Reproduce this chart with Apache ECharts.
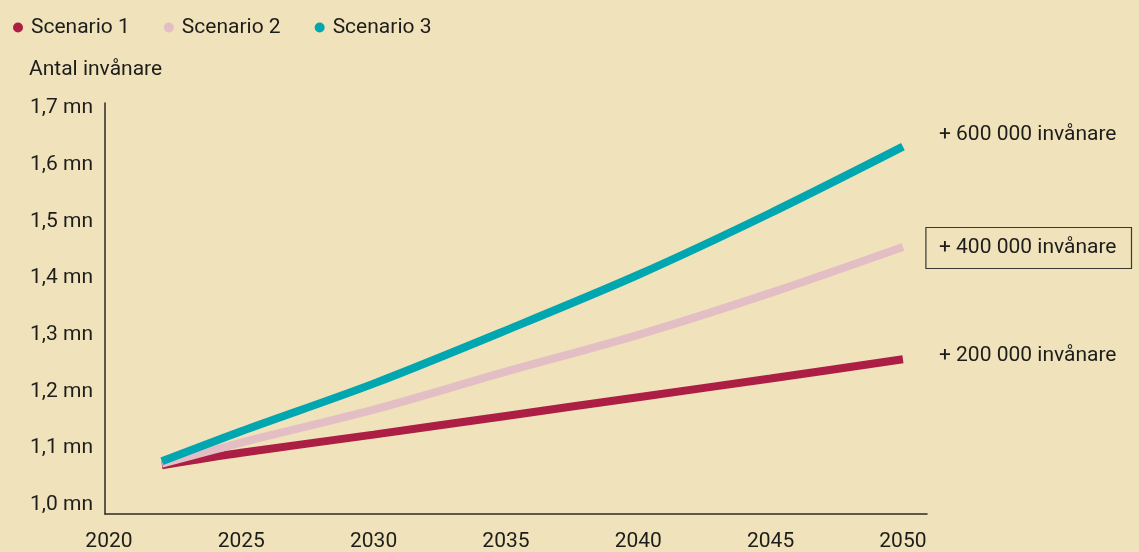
<!DOCTYPE html>
<html>
<head>
<meta charset="utf-8">
<script src="https://cdn.jsdelivr.net/npm/echarts@6/dist/echarts.min.js"></script>
<style>
  html, body { margin: 0; padding: 0; background: #f0e2ba; }
  #main { width: 1139px; height: 552px; }
</style>
</head>
<body>
<div id="main"></div>
<script>
// befolkningsprognos, tre scenarier
var years = [2022, 2025, 2030, 2035, 2040, 2045, 2050];
var scenario1 = [1.070, 1.092, 1.124, 1.157, 1.190, 1.223, 1.257];
var scenario2 = [1.073, 1.110, 1.168, 1.235, 1.300, 1.374, 1.455];
var scenario3 = [1.077, 1.130, 1.214, 1.308, 1.406, 1.515, 1.632];
var seriesNames = ['Scenario 1', 'Scenario 2', 'Scenario 3'];
var endTexts = ['+ 200 000 invånare', '+ 400 000 invånare', '+ 600 000 invånare'];
var xTicks = [2020, 2025, 2030, 2035, 2040, 2045, 2050];
var yTicks = [1.0, 1.1, 1.2, 1.3, 1.4, 1.5, 1.6, 1.7];

var colors = ['#ad1e45', '#e3bec4', '#00a6b0'];
var font = 'Roboto, "Noto Sans", sans-serif';
var textColor = '#1d1d1b';

function pairs(vals) {
	var out = [];
	for (var i in years) {
		out.push([years[i], vals[i]]);
	}
	return out;
}

var allValues = [scenario1, scenario2, scenario3];
var series = [];
for (var s = 0; s < 3; s++) {
	var endLabel = {
		show: true,
		formatter: endTexts[s],
		color: textColor,
		fontFamily: font,
		fontSize: 21,
		distance: 36,
		offset: [0, -3]
	};
	if (s == 1) {
		// mittenscenariot har ram
		endLabel.distance = 23;
		endLabel.borderColor = '#3a3a32';
		endLabel.borderWidth = 1.2;
		endLabel.padding = [10, 15, 10, 13];
		endLabel.offset = [0, 1];
	}
	if (s == 2) {
		endLabel.offset = [0, -12];
	}
	series.push({
		name: seriesNames[s],
		type: 'line',
		data: pairs(allValues[s]),
		smooth: 0.3,
		symbol: 'none',
		lineStyle: { width: 8, color: colors[s], cap: 'butt' },
		itemStyle: { color: colors[s] },
		endLabel: endLabel,
		emphasis: { disabled: true }
	});
}

var myChart = echarts.init(document.getElementById('main'));
var option = {
	backgroundColor: '#f0e2ba',
	animation: false,
	title: {
		text: 'Antal invånare',
		left: 29,
		top: 59,
		padding: 0,
		textStyle: { color: textColor, fontFamily: font, fontSize: 21, fontWeight: 'normal' }
	},
	legend: {
		data: seriesNames,
		left: 8,
		top: 12,
		icon: 'circle',
		itemWidth: 10,
		itemHeight: 10,
		itemGap: 34,
		textStyle: { color: textColor, fontFamily: font, fontSize: 21, padding: [0, 0, 0, 3] }
	},
	grid: { left: 105, right: 212, top: 103, bottom: 35 },
	xAxis: {
		type: 'value',
		min: 2019.85,
		max: 2050.91,
		axisLine: { lineStyle: { color: '#2b2b26', width: 1.5 } },
		axisTick: { show: false },
		splitLine: { show: false },
		axisLabel: {
			customValues: xTicks,
			margin: 17,
			color: textColor,
			fontFamily: font,
			fontSize: 21,
			formatter: function(v) {
				return String(v);
			}
		}
	},
	yAxis: {
		type: 'value',
		min: 0.984,
		max: 1.709,
		axisLine: { show: true, lineStyle: { color: '#2b2b26', width: 1.5 } },
		axisTick: { show: false },
		splitLine: { show: false },
		axisLabel: {
			customValues: yTicks,
			margin: 12,
			color: textColor,
			fontFamily: font,
			fontSize: 21,
			formatter: function(v) {
				return v.toFixed(1).replace('.', ',') + ' mn';
			}
		}
	},
	series: series
};
myChart.setOption(option);
</script>
</body>
</html>
